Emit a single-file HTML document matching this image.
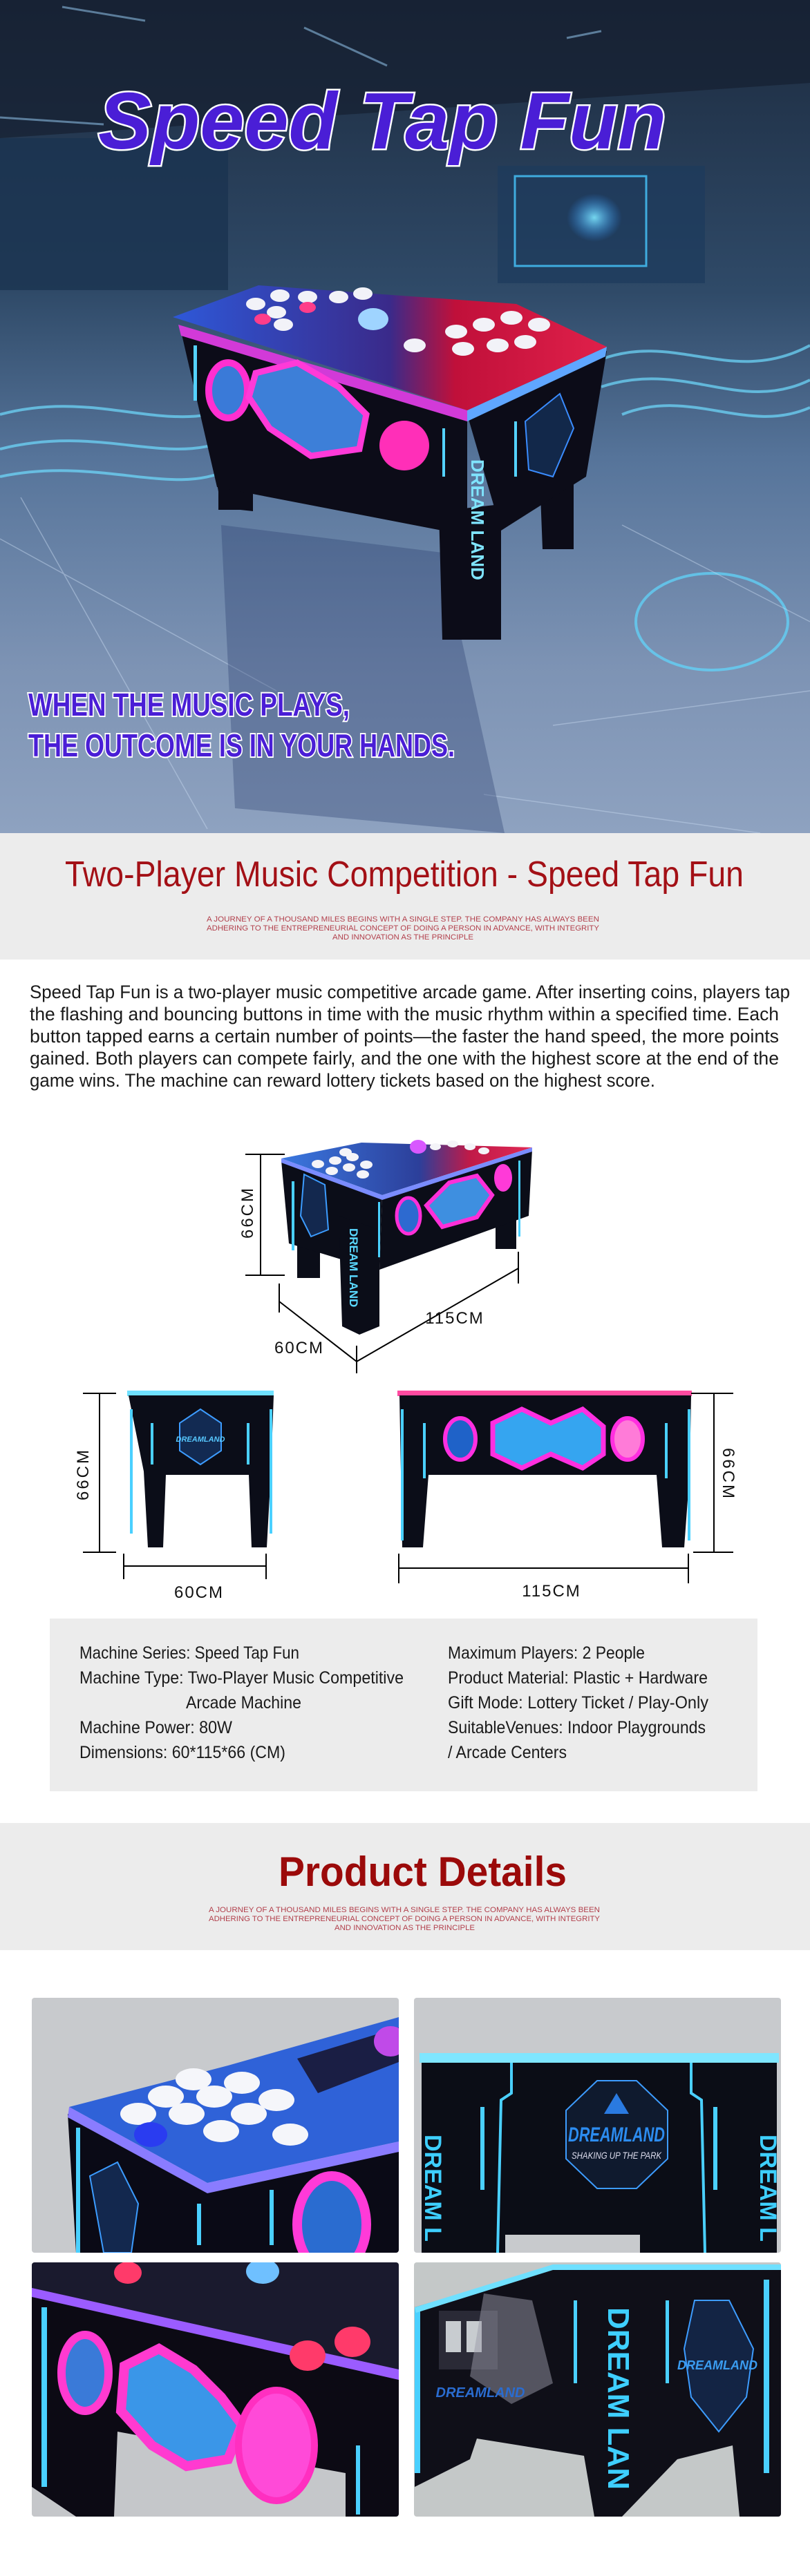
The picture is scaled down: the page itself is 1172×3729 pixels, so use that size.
<!DOCTYPE html>
<html><head><meta charset="utf-8"><style>
html,body{margin:0;padding:0;background:#fff}
svg{display:block}
text{font-family:"Liberation Sans",sans-serif}
</style></head><body>
<svg width="1172" height="3729" viewBox="0 0 1172 3729" xmlns="http://www.w3.org/2000/svg">
<defs>
<linearGradient id="hbg" x1="0" y1="0" x2="0" y2="1">
<stop offset="0" stop-color="#1c2a3e"/><stop offset="0.35" stop-color="#2f4a68"/><stop offset="0.55" stop-color="#56749a"/><stop offset="0.8" stop-color="#7d93b4"/><stop offset="1" stop-color="#8ea2c0"/></linearGradient>
<radialGradient id="glowc" cx="0.5" cy="0.5" r="0.5"><stop offset="0" stop-color="#7fe8ff" stop-opacity="0.9"/><stop offset="1" stop-color="#2a8cff" stop-opacity="0"/></radialGradient>
<linearGradient id="topg" x1="0" y1="0" x2="1" y2="0"><stop offset="0" stop-color="#2e58d8"/><stop offset="0.5" stop-color="#3a2a8a"/><stop offset="0.65" stop-color="#c0103a"/><stop offset="1" stop-color="#e0204a"/></linearGradient>
<linearGradient id="ptop" x1="0" y1="0" x2="1" y2="0"><stop offset="0" stop-color="#3a78e0"/><stop offset="0.55" stop-color="#2c3f9a"/><stop offset="0.75" stop-color="#c01a48"/><stop offset="1" stop-color="#e02a55"/></linearGradient>
</defs>

<!-- HERO -->
<rect x="0" y="0" width="1172" height="1206" fill="url(#hbg)"/>
<polygon points="0,0 1172,0 1172,120 0,200" fill="#151f30" opacity="0.7"/>
<rect x="0" y="200" width="330" height="220" fill="#1a3350" opacity="0.8"/>
<rect x="720" y="240" width="300" height="170" fill="#1d3a5c" opacity="0.7"/>
<rect x="745" y="255" width="190" height="130" fill="none" stroke="#47c8ff" stroke-width="3" opacity="0.8"/>
<rect x="820" y="280" width="80" height="70" fill="url(#glowc)"/>
<g stroke="#9fd6ff" stroke-width="3" opacity="0.5"><line x1="90" y1="10" x2="210" y2="30"/><line x1="440" y1="40" x2="560" y2="95"/><line x1="820" y1="55" x2="870" y2="45"/><line x1="0" y1="170" x2="150" y2="180"/></g>
<g fill="none" stroke="#6fdcff" stroke-width="4" opacity="0.7">
<path d="M0,600 C150,560 250,640 360,580"/><path d="M0,650 C160,610 260,690 360,620"/><path d="M0,690 C140,660 250,720 330,680"/>
<path d="M870,520 C980,480 1060,560 1172,500"/><path d="M870,560 C990,520 1070,600 1172,550"/><path d="M900,600 C1000,560 1080,630 1172,590"/></g>
<ellipse cx="1030" cy="900" rx="110" ry="70" fill="none" stroke="#60d8ff" stroke-width="4" opacity="0.7"/>
<g stroke="#c8daf0" stroke-width="1.5" opacity="0.45" fill="none"><path d="M0,780 L400,1000"/><path d="M30,720 L300,1200"/><path d="M900,760 L1172,900"/><path d="M800,1050 L1172,1000"/><path d="M700,1150 L1100,1206"/></g>
<!-- reflection -->
<polygon points="320,760 640,800 730,1206 340,1170" fill="#2b3f70" opacity="0.35"/>
<!-- hero table -->
<polygon points="314,700 366,715 366,740 320,735" fill="#0c0c18"/>
<rect x="316" y="690" width="48" height="48" fill="#0c0c18"/>
<polygon points="781,690 830,680 830,795 785,795" fill="#0c0c18"/>
<polygon points="262,480 676,600 676,775 314,705" fill="#0c0c18"/>
<polygon points="676,600 878,508 848,690 725,768" fill="#0c0c18"/>
<polygon points="635,740 725,730 725,926 640,926" fill="#0c0c18"/>
<polygon points="258,470 676,594 676,610 262,486" fill="#d23ad8"/>
<polygon points="676,594 878,502 876,516 676,610" fill="#5fa6ff"/>
<polygon points="250,459 374,413 747,440 878,502 676,594" fill="url(#topg)"/>
<g fill="#f2f2f8"><ellipse cx="370" cy="440" rx="14" ry="9"/><ellipse cx="405" cy="428" rx="14" ry="9"/><ellipse cx="445" cy="430" rx="14" ry="9"/><ellipse cx="490" cy="430" rx="14" ry="9"/><ellipse cx="525" cy="425" rx="14" ry="9"/><ellipse cx="400" cy="452" rx="14" ry="9"/><ellipse cx="410" cy="470" rx="14" ry="9"/>
<ellipse cx="660" cy="480" rx="16" ry="10"/><ellipse cx="700" cy="470" rx="16" ry="10"/><ellipse cx="740" cy="460" rx="16" ry="10"/><ellipse cx="780" cy="470" rx="16" ry="10"/><ellipse cx="720" cy="500" rx="16" ry="10"/><ellipse cx="670" cy="505" rx="16" ry="10"/><ellipse cx="760" cy="495" rx="16" ry="10"/><ellipse cx="600" cy="500" rx="16" ry="10"/></g>
<g fill="#ff3d8a"><ellipse cx="445" cy="445" rx="12" ry="8"/><ellipse cx="380" cy="462" rx="12" ry="8"/></g>
<ellipse cx="540" cy="462" rx="22" ry="16" fill="#9fd4ff"/>
<ellipse cx="330" cy="565" rx="28" ry="40" fill="#3a7ad8" stroke="#ff2fd0" stroke-width="10"/>
<polygon points="370,540 430,525 490,560 530,600 520,650 450,660 390,620 360,575" fill="#3d7fd8" stroke="#ff3ad8" stroke-width="9"/>
<circle cx="585" cy="645" r="36" fill="#ff2fb8"/>
<text x="682" y="665" font-family="Liberation Serif" font-size="26" font-weight="bold" fill="#7fe4ff" transform="rotate(90 682 665)">DREAM LAND</text>
<polygon points="760,610 810,570 830,620 800,690 765,680" fill="#12284a" stroke="#3a8cff" stroke-width="2"/>
<g fill="#54d2ff"><rect x="640" y="620" width="4" height="70"/><rect x="744" y="610" width="4" height="80"/><rect x="280" y="500" width="5" height="80"/></g>
<text x="142" y="215" font-size="116" font-weight="bold" font-style="italic" fill="#4a1ed6" stroke="#ffffff" stroke-width="5" paint-order="stroke" textLength="822" lengthAdjust="spacingAndGlyphs">Speed Tap Fun</text>
<text x="41" y="1036" font-size="46" font-weight="bold" fill="#4a1ed6" stroke="#ffffff" stroke-width="4" paint-order="stroke" textLength="465" lengthAdjust="spacingAndGlyphs">WHEN THE MUSIC PLAYS,</text>
<text x="41" y="1095" font-size="46" font-weight="bold" fill="#4a1ed6" stroke="#ffffff" stroke-width="4" paint-order="stroke" textLength="617" lengthAdjust="spacingAndGlyphs">THE OUTCOME IS IN YOUR HANDS.</text>

<!-- SECTION 1 HEADER -->
<rect x="0" y="1206" width="1172" height="183" fill="#ececec"/>
<text x="94" y="1283" font-size="52" fill="#a31016" textLength="982" lengthAdjust="spacingAndGlyphs">Two-Player Music Competition - Speed Tap Fun</text>
<g font-size="11" fill="#b2404c">
<text x="299" y="1334" textLength="568" lengthAdjust="spacingAndGlyphs">A JOURNEY OF A THOUSAND MILES BEGINS WITH A SINGLE STEP. THE COMPANY HAS ALWAYS BEEN</text>
<text x="299" y="1347" textLength="568" lengthAdjust="spacingAndGlyphs">ADHERING TO THE ENTREPRENEURIAL CONCEPT OF DOING A PERSON IN ADVANCE, WITH INTEGRITY</text>
<text x="481" y="1360" textLength="204" lengthAdjust="spacingAndGlyphs">AND INNOVATION AS THE PRINCIPLE</text></g>
<g font-size="27" fill="#1a1a1a">
<text x="43" y="1445" textLength="1100" lengthAdjust="spacingAndGlyphs">Speed Tap Fun is a two-player music competitive arcade game. After inserting coins, players tap</text>
<text x="43" y="1477" textLength="1084" lengthAdjust="spacingAndGlyphs">the flashing and bouncing buttons in time with the music rhythm within a specified time. Each</text>
<text x="43" y="1509" textLength="1084" lengthAdjust="spacingAndGlyphs">button tapped earns a certain number of points—the faster the hand speed, the more points</text>
<text x="43" y="1541" textLength="1084" lengthAdjust="spacingAndGlyphs">gained. Both players can compete fairly, and the one with the highest score at the end of the</text>
<text x="43" y="1573" textLength="905" lengthAdjust="spacingAndGlyphs">game wins. The machine can reward lottery tickets based on the highest score.</text></g>

<!-- DIMENSION DIAGRAM TOP -->
<rect x="430" y="1770" width="33" height="80" fill="#0b0d18"/>
<rect x="717" y="1720" width="30" height="88" fill="#0b0d18"/>
<polygon points="407,1680 553,1733 549,1840 418,1800" fill="#0b0d18"/>
<polygon points="553,1733 770,1664 765,1760 549,1838" fill="#0b0d18"/>
<polygon points="490,1760 549,1780 549,1920 520,1932 495,1920" fill="#0b0d18"/>
<polygon points="407,1677 523,1654 770,1661 553,1730" fill="url(#ptop)"/>
<polygon points="407,1677 553,1730 770,1661 770,1667 553,1737 407,1683" fill="#7a8cff"/>
<g fill="#f4f4f8"><ellipse cx="460" cy="1685" rx="9" ry="6"/><ellipse cx="485" cy="1680" rx="9" ry="6"/><ellipse cx="510" cy="1675" rx="9" ry="6"/><ellipse cx="480" cy="1695" rx="9" ry="6"/><ellipse cx="505" cy="1690" rx="9" ry="6"/><ellipse cx="530" cy="1686" rx="9" ry="6"/><ellipse cx="500" cy="1668" rx="9" ry="6"/><ellipse cx="525" cy="1700" rx="9" ry="6"/>
<ellipse cx="630" cy="1660" rx="8" ry="5"/><ellipse cx="655" cy="1656" rx="8" ry="5"/><ellipse cx="680" cy="1660" rx="8" ry="5"/><ellipse cx="700" cy="1666" rx="8" ry="5"/></g>
<ellipse cx="605" cy="1660" rx="12" ry="10" fill="#d858ff"/>
<polygon points="617,1745 650,1712 690,1702 712,1730 690,1762 640,1776" fill="#3e8fe0" stroke="#ff2fd8" stroke-width="6"/>
<ellipse cx="591" cy="1760" rx="17" ry="26" fill="#2d6ad0" stroke="#ff2fd8" stroke-width="5"/>
<ellipse cx="728" cy="1705" rx="13" ry="20" fill="#ff3ad8"/>
<polygon points="440,1700 470,1715 475,1780 450,1790 435,1760" fill="#13284e" stroke="#3c9cff" stroke-width="2"/>
<text x="506" y="1778" font-family="Liberation Serif" font-size="17" font-weight="bold" fill="#5ad8ff" transform="rotate(90 506 1778)">DREAM LAND</text>
<g fill="#4ad0ff"><rect x="422" y="1710" width="4" height="100"/><rect x="547" y="1740" width="3" height="80"/><rect x="750" y="1680" width="3" height="110"/></g>
<g stroke="#000" stroke-width="2" fill="none">
<line x1="377" y1="1671" x2="377" y2="1846"/><line x1="355" y1="1671" x2="412" y2="1671"/><line x1="355" y1="1846" x2="412" y2="1846"/>
<line x1="404" y1="1884" x2="516" y2="1971"/><line x1="516" y1="1971" x2="750" y2="1836"/>
<line x1="404" y1="1858" x2="404" y2="1900"/><line x1="516" y1="1948" x2="516" y2="1988"/><line x1="750" y1="1812" x2="750" y2="1858"/></g>
<g font-size="24" fill="#111">
<text transform="translate(366 1755) rotate(-90)" text-anchor="middle" letter-spacing="3">66CM</text>
<text x="658" y="1916" text-anchor="middle" letter-spacing="2">115CM</text>
<text x="433" y="1959" text-anchor="middle" letter-spacing="2">60CM</text></g>

<!-- front/side views -->
<rect x="184" y="2013" width="212" height="8" fill="#6fe0ff"/>
<polygon points="186,2020 396,2020 392,2130 386,2240 364,2240 360,2135 240,2135 236,2240 214,2240 208,2130" fill="#0b0d18"/>
<polygon points="290,2040 320,2060 320,2100 290,2120 260,2100 260,2060" fill="#122a52" stroke="#3d9cff" stroke-width="2"/>
<text x="290" y="2087" font-size="11" font-weight="bold" font-style="italic" fill="#57c8ff" text-anchor="middle">DREAMLAND</text>
<g fill="#4ad0ff"><rect x="188" y="2040" width="4" height="180"/><rect x="390" y="2040" width="4" height="180"/><rect x="218" y="2060" width="4" height="60"/><rect x="357" y="2060" width="4" height="60"/></g>
<rect x="575" y="2013" width="426" height="8" fill="#ff4aa0"/>
<polygon points="578,2020 1000,2020 998,2130 990,2240 958,2240 950,2135 620,2135 612,2240 582,2240 580,2130" fill="#0b0d18"/>
<polygon points="713,2060 755,2040 797,2060 843,2040 873,2065 873,2105 843,2125 797,2105 755,2125 713,2105" fill="#35a5f0" stroke="#ff2fe0" stroke-width="7"/>
<ellipse cx="666" cy="2083" rx="22" ry="30" fill="#1f62c8" stroke="#ff2fe0" stroke-width="6"/>
<ellipse cx="908" cy="2083" rx="22" ry="30" fill="#ff7bd8" stroke="#ff2fe0" stroke-width="6"/>
<g fill="#4ad0ff"><rect x="580" y="2040" width="4" height="190"/><rect x="995" y="2040" width="4" height="190"/><rect x="612" y="2060" width="4" height="80"/><rect x="962" y="2060" width="4" height="80"/></g>
<g stroke="#000" stroke-width="2" fill="none">
<line x1="144" y1="2017" x2="144" y2="2247"/><line x1="120" y1="2017" x2="168" y2="2017"/><line x1="120" y1="2247" x2="168" y2="2247"/>
<line x1="179" y1="2267" x2="385" y2="2267"/><line x1="179" y1="2249" x2="179" y2="2286"/><line x1="385" y1="2249" x2="385" y2="2286"/>
<line x1="1033" y1="2017" x2="1033" y2="2247"/><line x1="1000" y1="2017" x2="1061" y2="2017"/><line x1="1003" y1="2247" x2="1061" y2="2247"/>
<line x1="577" y1="2270" x2="996" y2="2270"/><line x1="577" y1="2249" x2="577" y2="2292"/><line x1="996" y1="2249" x2="996" y2="2292"/></g>
<g font-size="24" fill="#111">
<text transform="translate(128 2134) rotate(-90)" text-anchor="middle" letter-spacing="3">66CM</text>
<text transform="translate(1046 2134) rotate(90)" text-anchor="middle" letter-spacing="3">66CM</text>
<text x="288" y="2313" text-anchor="middle" letter-spacing="2">60CM</text>
<text x="798" y="2311" text-anchor="middle" letter-spacing="2">115CM</text></g>

<!-- SPEC BOX -->
<rect x="72" y="2343" width="1024" height="250" fill="#ececec"/>
<g font-size="25" fill="#1a1a1a">
<text x="115" y="2401" textLength="318" lengthAdjust="spacingAndGlyphs">Machine Series: Speed Tap Fun</text>
<text x="115" y="2437" textLength="469" lengthAdjust="spacingAndGlyphs">Machine Type: Two-Player Music Competitive</text>
<text x="269" y="2473" textLength="167" lengthAdjust="spacingAndGlyphs">Arcade Machine</text>
<text x="115" y="2509" textLength="221" lengthAdjust="spacingAndGlyphs">Machine Power: 80W</text>
<text x="115" y="2545" textLength="298" lengthAdjust="spacingAndGlyphs">Dimensions: 60*115*66 (CM)</text>
<text x="648" y="2401" textLength="285" lengthAdjust="spacingAndGlyphs">Maximum Players: 2 People</text>
<text x="648" y="2437" textLength="376" lengthAdjust="spacingAndGlyphs">Product Material: Plastic + Hardware</text>
<text x="648" y="2473" textLength="377" lengthAdjust="spacingAndGlyphs">Gift Mode: Lottery Ticket / Play-Only</text>
<text x="648" y="2509" textLength="373" lengthAdjust="spacingAndGlyphs">SuitableVenues: Indoor Playgrounds</text>
<text x="648" y="2545" textLength="172" lengthAdjust="spacingAndGlyphs">/ Arcade Centers</text></g>

<!-- SECTION 2 HEADER -->
<rect x="0" y="2639" width="1172" height="184" fill="#ececec"/>
<text x="403" y="2730" font-size="60" font-weight="bold" fill="#9b0a0a" textLength="417" lengthAdjust="spacingAndGlyphs">Product Details</text>
<g font-size="11" fill="#b2404c">
<text x="302" y="2768" textLength="566" lengthAdjust="spacingAndGlyphs">A JOURNEY OF A THOUSAND MILES BEGINS WITH A SINGLE STEP. THE COMPANY HAS ALWAYS BEEN</text>
<text x="302" y="2781" textLength="566" lengthAdjust="spacingAndGlyphs">ADHERING TO THE ENTREPRENEURIAL CONCEPT OF DOING A PERSON IN ADVANCE, WITH INTEGRITY</text>
<text x="484" y="2794" textLength="203" lengthAdjust="spacingAndGlyphs">AND INNOVATION AS THE PRINCIPLE</text></g>

<!-- PHOTO 1 -->
<clipPath id="c1"><rect x="46" y="2892" width="531" height="369" rx="4"/></clipPath>
<g clip-path="url(#c1)">
<rect x="46" y="2892" width="531" height="369" fill="#c8cacd"/>
<polygon points="98,3060 110,3261 577,3261 577,3100 300,3170" fill="#0a0a16"/>
<polygon points="100,3050 330,2990 577,2920 577,3100 300,3160" fill="#2f62d8"/>
<polygon points="100,3050 300,3160 577,3100 577,3115 300,3175 98,3065" fill="#8a7cff"/>
<polygon points="430,2980 577,2935 577,2985 460,3030" fill="#1a1e44"/>
<g fill="#f5f6fa"><ellipse cx="200" cy="3060" rx="26" ry="16"/><ellipse cx="240" cy="3035" rx="26" ry="16"/><ellipse cx="280" cy="3010" rx="26" ry="16"/><ellipse cx="270" cy="3060" rx="26" ry="16"/><ellipse cx="310" cy="3035" rx="26" ry="16"/><ellipse cx="350" cy="3015" rx="26" ry="16"/><ellipse cx="320" cy="3085" rx="26" ry="16"/><ellipse cx="360" cy="3060" rx="26" ry="16"/><ellipse cx="400" cy="3040" rx="26" ry="16"/><ellipse cx="420" cy="3090" rx="26" ry="16"/></g>
<ellipse cx="218" cy="3090" rx="24" ry="18" fill="#2a3cf0"/>
<ellipse cx="565" cy="2955" rx="24" ry="22" fill="#c04ae8"/>
<ellipse cx="480" cy="3220" rx="50" ry="70" fill="#2a6cd0" stroke="#ff3ad8" stroke-width="14"/>
<polygon points="130,3150 170,3130 200,3190 190,3261 150,3261" fill="#13284e" stroke="#3c9cff" stroke-width="2"/>
<g fill="#4ad0ff"><rect x="110" y="3080" width="6" height="181"/><rect x="285" y="3190" width="6" height="60"/><rect x="390" y="3170" width="6" height="80"/></g>
</g>
<!-- PHOTO 2 -->
<clipPath id="c2"><rect x="599" y="2892" width="531" height="369" rx="4"/></clipPath>
<g clip-path="url(#c2)">
<rect x="599" y="2892" width="531" height="369" fill="#c8cacd"/>
<rect x="607" y="2972" width="520" height="14" fill="#7fe6ff"/>
<rect x="610" y="2986" width="514" height="275" fill="#0b0d16"/>
<rect x="731" y="3235" width="195" height="26" fill="#c8cacd"/>
<polygon points="864,3012 921,3012 966,3055 966,3125 921,3168 864,3168 819,3125 819,3055" fill="#0f1a2e" stroke="#3d9cff" stroke-width="2"/>
<text x="892" y="3100" font-size="30" font-weight="bold" font-style="italic" fill="#2c8cf0" text-anchor="middle" textLength="140" lengthAdjust="spacingAndGlyphs">DREAMLAND</text>
<text x="892" y="3125" font-size="14" font-style="italic" fill="#dde" text-anchor="middle" textLength="130" lengthAdjust="spacingAndGlyphs">SHAKING UP THE PARK</text>
<polygon points="892,3030 910,3060 874,3060" fill="#2a7ae0"/>
<g fill="none" stroke="#4ad0ff" stroke-width="4"><path d="M740,2986 L740,3030 L725,3040 L720,3261"/><path d="M1000,2986 L1000,3030 L1015,3040 L1020,3261"/></g>
<g fill="#4ad0ff"><rect x="695" y="3050" width="6" height="120"/><rect x="1032" y="3050" width="6" height="120"/></g>
<text x="615" y="3090" font-family="Liberation Serif" font-size="34" font-weight="bold" fill="#3ecfff" transform="rotate(90 615 3090)">DREAM L</text>
<text x="1100" y="3090" font-family="Liberation Serif" font-size="34" font-weight="bold" fill="#3ecfff" transform="rotate(90 1100 3090)">DREAM L</text>
</g>
<!-- PHOTO 3 -->
<clipPath id="c3"><rect x="46" y="3275" width="531" height="368" rx="4"/></clipPath>
<g clip-path="url(#c3)">
<rect x="46" y="3275" width="531" height="368" fill="#c5c7ca"/>
<polygon points="46,3275 577,3275 577,3440 46,3320" fill="#1a1a2e"/>
<polygon points="46,3320 577,3440 577,3643 500,3643 500,3580 170,3520 165,3643 110,3643 46,3600" fill="#0c0a14"/>
<polygon points="46,3312 577,3430 577,3445 46,3325" fill="#9b5cff"/>
<g fill="#ff3a6a"><ellipse cx="445" cy="3410" rx="26" ry="22"/><ellipse cx="510" cy="3390" rx="26" ry="22"/><ellipse cx="185" cy="3290" rx="20" ry="16"/></g>
<ellipse cx="380" cy="3288" rx="24" ry="18" fill="#6fc0ff"/>
<ellipse cx="123" cy="3435" rx="34" ry="55" fill="#3a7ad8" stroke="#ff3ad0" stroke-width="12"/>
<polygon points="180,3425 230,3400 280,3430 320,3470 350,3510 330,3560 270,3570 220,3540 175,3490" fill="#3a96e8" stroke="#ff3ad0" stroke-width="14"/>
<ellipse cx="400" cy="3540" rx="55" ry="80" fill="#ff4ad8" stroke="#ff2fc0" stroke-width="10"/>
<rect x="60" y="3340" width="8" height="260" fill="#4ad0ff"/>
<rect x="515" y="3540" width="6" height="100" fill="#4ad0ff"/>
</g>
<!-- PHOTO 4 -->
<clipPath id="c4"><rect x="599" y="3275" width="531" height="368" rx="4"/></clipPath>
<g clip-path="url(#c4)">
<rect x="599" y="3275" width="531" height="368" fill="#c4c8c8"/>
<polygon points="600,3340 800,3280 1130,3280 1130,3643 1070,3643 1060,3540 980,3560 900,3643 860,3643 845,3555 690,3530 680,3560 620,3590 600,3600" fill="#0f0f18"/>
<rect x="635" y="3345" width="85" height="85" fill="#2a2a36"/>
<rect x="645" y="3360" width="22" height="45" fill="#c8ccd0"/><rect x="675" y="3360" width="22" height="45" fill="#c8ccd0"/>
<polygon points="700,3320 770,3330 800,3450 740,3480 680,3440" fill="#9a9aa8" opacity="0.5"/>
<text x="695" y="3470" font-size="20" font-weight="bold" font-style="italic" fill="#2a6cd0" text-anchor="middle">DREAMLAND</text>
<text x="880" y="3340" font-family="Liberation Serif" font-size="44" font-weight="bold" fill="#3ecfff" transform="rotate(90 880 3340)">DREAM LAN</text>
<polygon points="1005,3330 1055,3330 1090,3400 1080,3470 1040,3520 1000,3470 990,3400" fill="#132444" stroke="#3d9cff" stroke-width="2"/>
<text x="1038" y="3430" font-size="18" font-weight="bold" font-style="italic" fill="#3a9cf0" text-anchor="middle">DREAMLAND</text>
<g fill="#4ad0ff"><rect x="600" y="3340" width="8" height="240"/><rect x="1105" y="3300" width="8" height="280"/><rect x="830" y="3330" width="5" height="120"/><rect x="963" y="3330" width="5" height="120"/></g>
<polygon points="600,3340 800,3278 1130,3278 1130,3286 800,3286 602,3348" fill="#6fe0ff"/>
</g>
</svg>
</body></html>
